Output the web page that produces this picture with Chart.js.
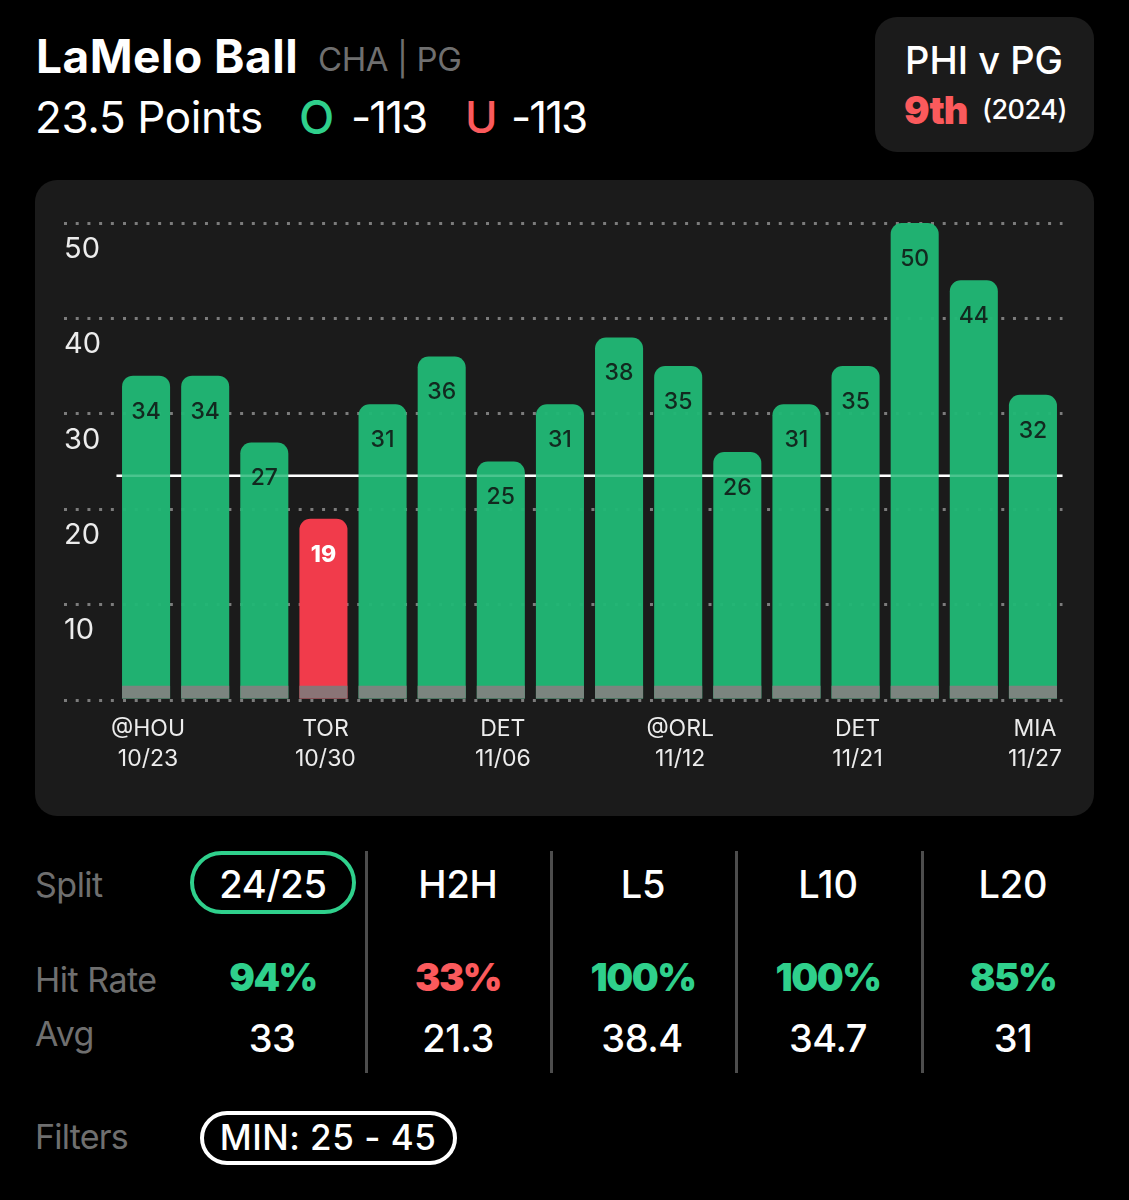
<!DOCTYPE html>
<html>
<head>
<meta charset="utf-8">
<script src="https://cdn.jsdelivr.net/npm/chart.js@4/dist/chart.umd.min.js"></script>
<style>
    html, body { margin: 0; padding: 0; background: #000; }
    body { position: relative; width: 1129px; height: 1200px; overflow: hidden; font-family: Inter, sans-serif; color: #fff; }
    .abs { position: absolute; white-space: nowrap; line-height: 1; }
    .center { transform: translateX(-50%); }
    .card { position: absolute; background: #1b1b1b; border-radius: 22px; }
    .muted { color: #6f6f6f; }
    .green { color: #2fd08c; }
    .red { color: #fb5a5c; }
    .divider { position: absolute; top: 851px; width: 3px; height: 222px; background: #4d4d4d; }
    .pill { position: absolute; box-sizing: border-box; border-radius: 40px; }
    .rowLabel { font-size: 34px; letter-spacing: -0.5px; }
    .split { font-size: 38px; font-weight: 500; top: 865px; letter-spacing: -0.2px; }
    .rate { font-size: 38px; font-weight: 900; top: 958px; letter-spacing: -1.5px; }
    .avg { font-size: 38px; font-weight: 500; top: 1019px; letter-spacing: -0.5px; }
    #chartWrap { position: absolute; left: 35px; top: 180px; width: 1059px; height: 636px; }
</style>
</head>
<body>
    <div class="abs" style="left:36px;top:33px;font-size:46px;font-weight:700;letter-spacing:0.5px">LaMelo Ball</div>
    <div class="abs muted" style="left:318px;top:43px;font-size:33px;letter-spacing:-0.4px">CHA | PG</div>
    <div class="abs" style="left:35px;top:95px;font-size:44px;letter-spacing:-0.4px">23.5 Points</div>
    <div class="abs green" style="left:299px;top:94px;font-size:46px;font-weight:500">O</div>
    <div class="abs" style="left:351px;top:95px;font-size:44px;letter-spacing:-2px">-113</div>
    <div class="abs red" style="left:465px;top:95px;font-size:44px;font-weight:500">U</div>
    <div class="abs" style="left:511px;top:95px;font-size:44px;letter-spacing:-2px">-113</div>

    <div class="card" style="left:875px;top:17px;width:219px;height:135px"></div>
    <div class="abs center" style="left:984px;top:41px;font-size:38px;font-weight:500;letter-spacing:0">PHI v PG</div>
    <div class="abs red" style="left:904px;top:91px;font-size:38px;font-weight:900;letter-spacing:-1px">9th</div>
    <div class="abs" style="left:982px;top:96px;font-size:27px;font-weight:500;letter-spacing:-0.5px">(2024)</div>

    <div class="card" style="left:35px;top:180px;width:1059px;height:636px"></div>
    <div id="chartWrap"><canvas id="propChart"></canvas></div>

    <div class="abs muted rowLabel" style="left:35px;top:868px">Split</div>
    <div class="abs muted rowLabel" style="left:35px;top:963px">Hit Rate</div>
    <div class="abs muted rowLabel" style="left:35px;top:1017px">Avg</div>
    <div class="abs muted rowLabel" style="left:35px;top:1120px;letter-spacing:-0.8px">Filters</div>

    <div class="pill" style="left:190px;top:851px;width:166px;height:63px;border:4px solid #2fd08c"></div>
    <div class="abs center split" style="left:273px">24/25</div>
    <div class="abs center split" style="left:458px">H2H</div>
    <div class="abs center split" style="left:643px">L5</div>
    <div class="abs center split" style="left:828px">L10</div>
    <div class="abs center split" style="left:1013px">L20</div>

    <div class="abs center rate green" style="left:273px">94%</div>
    <div class="abs center rate red" style="left:458px">33%</div>
    <div class="abs center rate green" style="left:643px">100%</div>
    <div class="abs center rate green" style="left:828px">100%</div>
    <div class="abs center rate green" style="left:1013px">85%</div>

    <div class="abs center avg" style="left:272px">33</div>
    <div class="abs center avg" style="left:458px">21.3</div>
    <div class="abs center avg" style="left:642px">38.4</div>
    <div class="abs center avg" style="left:828px">34.7</div>
    <div class="abs center avg" style="left:1013px">31</div>

    <div class="divider" style="left:365px"></div>
    <div class="divider" style="left:550px"></div>
    <div class="divider" style="left:735px"></div>
    <div class="divider" style="left:921px"></div>

    <div class="pill" style="left:200px;top:1111px;width:257px;height:54px;border:4px solid #fff"></div>
    <div class="abs center" style="left:328px;top:1120px;font-size:35px;font-weight:500;letter-spacing:0.5px">MIN: 25 - 45</div>

<script>
// Chart data
const opponents = ['@HOU', '', '', 'TOR', '', '', 'DET', '', '', '@ORL', '', '', 'DET', '', '', 'MIA'];
const dates = ['10/23', '', '', '10/30', '', '', '11/06', '', '', '11/12', '', '', '11/21', '', '', '11/27'];
const points = [34, 34, 27, 19, 31, 36, 25, 31, 38, 35, 26, 31, 35, 50, 44, 32];
const baseBand = [1.5, 1.5, 1.5, 1.5, 1.5, 1.5, 1.5, 1.5, 1.5, 1.5, 1.5, 1.5, 1.5, 1.5, 1.5, 1.5];
const yTicks = [0, 10, 20, 30, 40, 50];
const propLine = 23.5;

const GREEN = 'rgba(33,183,117,0.97)';
const RED = '#f13b4b';

// Prop line goes under the bars, with a faint pass over them
const propLinePlugin = {
    id: 'propLine',
    beforeDatasetsDraw(chart) {
        drawPropLine(chart, '#ffffff');
    },
    afterDatasetsDraw(chart) {
        drawPropLine(chart, 'rgba(255,255,255,0.16)');
    }
};

function drawPropLine(chart, color) {
    const { ctx, chartArea, scales } = chart;
    const y = scales.y.getPixelForValue(propLine);
    ctx.save();
    ctx.strokeStyle = color;
    ctx.lineWidth = 2.5;
    ctx.beginPath();
    ctx.moveTo(chartArea.left, y);
    ctx.lineTo(chartArea.right, y);
    ctx.stroke();
    ctx.restore();
}

// Value labels sit a fixed distance under the top of each bar
const barLabelPlugin = {
    id: 'barLabels',
    afterDatasetsDraw(chart) {
        const { ctx } = chart;
        const meta = chart.getDatasetMeta(1);
        ctx.save();
        ctx.textAlign = 'center';
        ctx.textBaseline = 'middle';
        meta.data.forEach((bar, i) => {
            const under = points[i] < propLine;
            ctx.font = (under ? '800' : '500') + ' 23px Inter, sans-serif';
            ctx.fillStyle = under ? '#ffffff' : '#12291f';
            ctx.fillText(points[i], bar.x, bar.y + 36);
        });
        ctx.restore();
    }
};

new Chart(document.getElementById('propChart'), {
    type: 'bar',
    data: {
        labels: opponents.map((o, i) => [o, dates[i]]),
        datasets: [
            {
                data: baseBand,
                grouped: false,
                backgroundColor: points.map(p => p < propLine ? '#8a7476' : '#7b857f'),
                barPercentage: 0.8125,
                categoryPercentage: 1,
                order: 0
            },
            {
                data: points,
                grouped: false,
                backgroundColor: points.map(p => p < propLine ? RED : GREEN),
                borderRadius: { topLeft: 11, topRight: 11 },
                borderSkipped: 'bottom',
                barPercentage: 0.8125,
                categoryPercentage: 1,
                order: 1
            }
        ]
    },
    options: {
        responsive: true,
        maintainAspectRatio: false,
        animation: false,
        layout: { padding: { left: 29, right: 31.5, top: 43, bottom: 0 } },
        plugins: { legend: { display: false }, tooltip: { enabled: false } },
        scales: {
            x: {
                grid: { display: false },
                border: { display: false },
                afterFit(scale) { scale.height = 116; },
                ticks: {
                    autoSkip: false,
                    maxRotation: 0,
                    minRotation: 0,
                    padding: 6,
                    labelOffset: 2,
                    color: '#ececec',
                    font: { family: 'Inter', size: 23, lineHeight: 1.3 }
                }
            },
            y: {
                min: 0,
                max: 50,
                afterBuildTicks(scale) { scale.ticks = yTicks.map(v => ({ value: v })); },
                afterFit(scale) { scale.width = 52.5; },
                // dash offset keeps the dots in step where ticks meet grid lines
                border: { display: false, dash: [3, 8.71], dashOffset: 5.7 },
                grid: {
                    color: '#7c7c7c',
                    lineWidth: 3,
                    tickLength: 52.5,
                    tickColor: '#7c7c7c',
                    tickBorderDash: [3, 8.71]
                },
                ticks: {
                    crossAlign: 'far',
                    labelOffset: 26,
                    color: '#ececec',
                    font: { family: 'Inter', size: 29 },
                    callback: v => v === 0 ? '' : v
                }
            }
        }
    },
    plugins: [propLinePlugin, barLabelPlugin]
});
</script>
</body>
</html>
